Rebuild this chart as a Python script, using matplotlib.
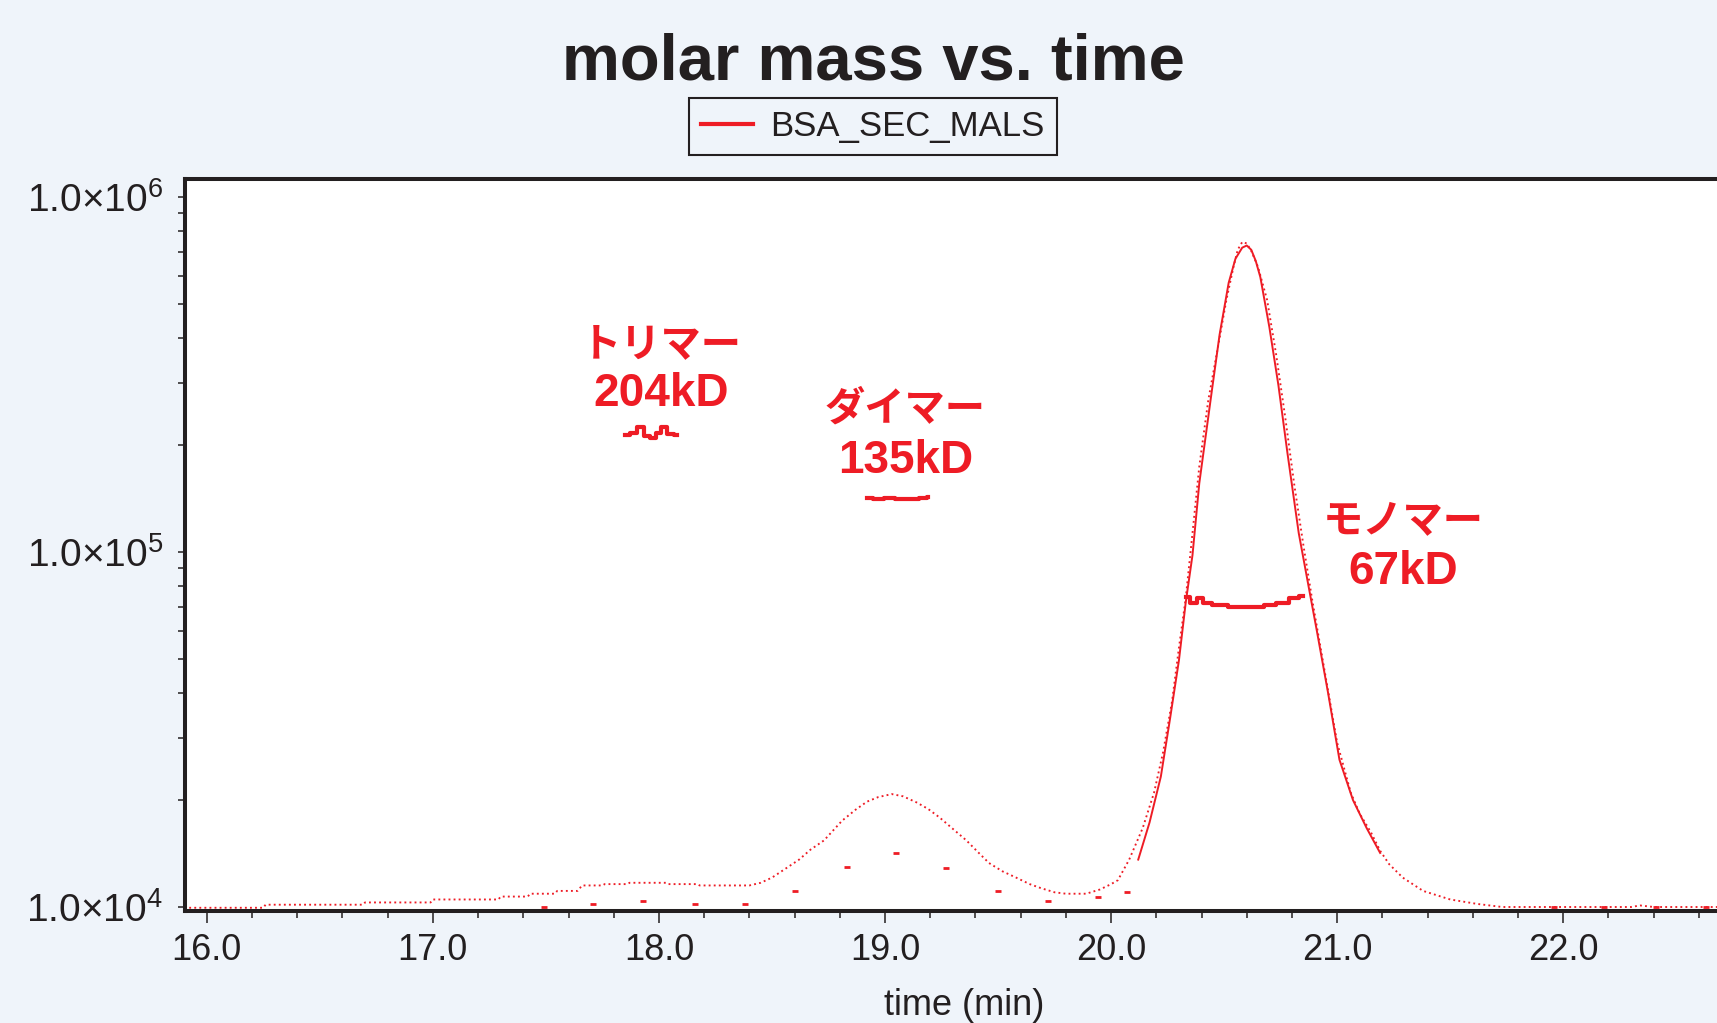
import math
import matplotlib
matplotlib.use("Agg")
import matplotlib.pyplot as plt
from matplotlib.ticker import MultipleLocator, FixedLocator, LogLocator, NullFormatter, FuncFormatter

plt.rcParams['font.family'] = ['Liberation Sans', 'Noto Sans CJK JP']
plt.rcParams['mathtext.fontset'] = 'custom'
plt.rcParams['mathtext.rm'] = 'Liberation Sans'

RED = '#ee1c25'
INK = '#231f20'
BG = '#eff4fa'

# dotted detector trace (time in min, scaled signal)
trace_t = [15.90, 16.25, 16.26, 16.69, 16.70, 16.99, 17.00, 17.29, 17.30, 17.42,
           17.43, 17.54, 17.55, 17.64, 17.66, 17.75, 17.76, 17.86, 17.87, 18.03,
           18.04, 18.17, 18.18, 18.40, 18.45, 18.50, 18.55, 18.62, 18.67, 18.73,
           18.81, 18.87, 18.92, 18.97, 19.03, 19.08, 19.14, 19.19, 19.24, 19.30,
           19.36, 19.41, 19.46, 19.52, 19.58, 19.64, 19.69, 19.75, 19.80, 19.89,
           19.95, 20.00, 20.03, 20.08, 20.14, 20.19, 20.23, 20.27, 20.30, 20.33,
           20.36, 20.39, 20.43, 20.47, 20.51, 20.54, 20.56, 20.58, 20.60, 20.62,
           20.65, 20.69, 20.73, 20.77, 20.81, 20.85, 20.89, 20.94, 21.00, 21.06,
           21.10, 21.15, 21.19, 21.23, 21.29, 21.38, 21.50, 21.62, 21.73, 22.30,
           22.34, 22.40, 22.68]
trace_v = [9.95e3, 9.95e3, 1.015e4, 1.015e4, 1.03e4, 1.03e4, 1.05e4, 1.05e4, 1.07e4, 1.07e4,
           1.09e4, 1.09e4, 1.11e4, 1.11e4, 1.15e4, 1.15e4, 1.16e4, 1.16e4, 1.17e4, 1.17e4,
           1.16e4, 1.16e4, 1.15e4, 1.15e4, 1.17e4, 1.21e4, 1.27e4, 1.36e4, 1.45e4, 1.54e4,
           1.75e4, 1.88e4, 1.98e4, 2.04e4, 2.08e4, 2.05e4, 1.97e4, 1.89e4, 1.79e4, 1.66e4,
           1.54e4, 1.43e4, 1.33e4, 1.26e4, 1.21e4, 1.16e4, 1.13e4, 1.10e4, 1.09e4, 1.09e4,
           1.12e4, 1.16e4, 1.19e4, 1.36e4, 1.67e4, 2.1e4, 2.73e4, 3.81e4, 5.37e4, 7.4e4,
           1.13e5, 1.74e5, 2.68e5, 3.7e5, 5.13e5, 6.3e5, 7.1e5, 7.47e5, 7.4e5, 7.05e5,
           6.35e5, 5.13e5, 3.6e5, 2.4e5, 1.55e5, 1.05e5, 7.3e4, 4.8e4, 2.9e4, 2.1e4,
           1.83e4, 1.62e4, 1.44e4, 1.32e4, 1.21e4, 1.11e4, 1.05e4, 1.02e4, 1.0e4, 1.0e4,
           1.01e4, 1.0e4, 1.0e4]

# solid trace around the main peak
peak_t = [20.12, 20.17, 20.22, 20.26, 20.30, 20.33, 20.36, 20.39, 20.44, 20.48,
          20.52, 20.55, 20.58, 20.60, 20.62, 20.64, 20.66, 20.70, 20.74, 20.78,
          20.83, 20.88, 20.91, 20.96, 21.01, 21.07, 21.13, 21.19]
peak_v = [1.36e4, 1.73e4, 2.33e4, 3.37e4, 4.95e4, 7.2e4, 9.8e4, 1.56e5, 2.68e5, 4.1e5,
          5.73e5, 6.7e5, 7.2e5, 7.3e5, 7.1e5, 6.6e5, 5.95e5, 4.3e5, 2.95e5, 1.9e5,
          1.13e5, 7.6e4, 6.0e4, 4.0e4, 2.6e4, 2.0e4, 1.67e4, 1.42e4]

# same trace, sparse symbols elsewhere
sparse_t = [16.82, 17.04, 17.26, 17.49, 17.71, 17.93, 18.16, 18.38, 18.60, 18.83,
            19.05, 19.27, 19.50, 19.72, 19.94, 20.07, 21.96, 22.18, 22.41, 22.63]
sparse_v = [9.8e3, 9.8e3, 9.8e3, 1.0e4, 1.02e4, 1.04e4, 1.02e4, 1.02e4, 1.11e4, 1.3e4,
            1.42e4, 1.29e4, 1.11e4, 1.04e4, 1.07e4, 1.1e4, 1.0e4, 1.0e4, 1.0e4, 1.0e4]

# molar mass (g/mol)
tri_t = [17.85, 17.89, 17.92, 17.95, 17.97, 18.00, 18.02, 18.05, 18.08]
tri_m = [2.13e5, 2.17e5, 2.25e5, 2.12e5, 2.10e5, 2.17e5, 2.25e5, 2.15e5, 2.13e5]
di_t = [18.92, 18.97, 19.02, 19.07, 19.12, 19.18, 19.19]
di_m = [1.42e5, 1.41e5, 1.42e5, 1.41e5, 1.41e5, 1.42e5, 1.43e5]
mono_t = [20.33, 20.37, 20.39, 20.42, 20.47, 20.56, 20.65, 20.70, 20.76, 20.81, 20.85]
mono_m = [7.45e4, 7.2e4, 7.4e4, 7.2e4, 7.07e4, 7.0e4, 7.0e4, 7.1e4, 7.2e4, 7.4e4, 7.5e4]

labels_jp = ['トリマー', 'ダイマー', 'モノマー']
labels_kd = ['204kD', '135kD', '67kD']
label_t = [18.01, 19.09, 21.29]
label_jp_y = [3.57e5, 2.34e5, 1.14e5]
label_kd_y = [2.58e5, 1.67e5, 8.15e4]

fig = plt.figure(figsize=(17.17, 10.23), dpi=100, facecolor=BG)
ax_left = 185.3 / 1717
ax = fig.add_axes([ax_left, 1 - 911.3 / 1023, 1.0 - ax_left, (911.3 - 179.2) / 1023])
ax.set_facecolor('white')

ax.plot(trace_t, trace_v, color=RED, lw=1.35, dashes=(1, 1.7))
ax.plot(peak_t, peak_v, color=RED, lw=1.4)
ax.plot(sparse_t, sparse_v, ls='none', marker='_', ms=4, mew=2, color=RED)
ax.plot(tri_t, tri_m, color=RED, lw=3.0, drawstyle='steps-mid')
ax.plot(di_t, di_m, color=RED, lw=3.0, drawstyle='steps-mid')
ax.plot(mono_t, mono_m, color=RED, lw=3.0, drawstyle='steps-mid', label='BSA_SEC_MALS')

for t, jp, kd, yj, yk in zip(label_t, labels_jp, labels_kd, label_jp_y, label_kd_y):
    ax.text(t, yj, jp, color=RED, fontsize=29, fontweight='bold', ha='center', va='baseline')
    ax.text(t, yk, kd, color=RED, fontsize=33, fontweight='bold', ha='center', va='baseline')

ax.set_yscale('log')
ax.set_xlim(15.905, 22.68)
ax.set_ylim(9725, 1.1224e6)

ax.xaxis.set_major_locator(MultipleLocator(1))
ax.xaxis.set_minor_locator(MultipleLocator(0.2))
ax.xaxis.set_major_formatter(FuncFormatter(lambda v, p: f'{v:.1f}'))
ax.yaxis.set_major_locator(FixedLocator([1e4, 1e5, 1e6]))
ax.yaxis.set_major_formatter(FuncFormatter(
    lambda v, p: '1.0×10$\\mathregular{^{%d}}$' % round(math.log10(v))))
ax.yaxis.set_minor_locator(LogLocator(base=10, subs=range(2, 10)))
ax.yaxis.set_minor_formatter(NullFormatter())

for side in ['left', 'bottom', 'top']:
    ax.spines[side].set_linewidth(2.9)
    ax.spines[side].set_color(INK)
ax.spines['right'].set_visible(False)

ax.tick_params(axis='x', which='major', length=8.6, width=1.1, color=INK,
               labelsize=26, labelcolor=INK, pad=7)
ax.tick_params(axis='x', which='minor', length=5, width=1.1, color=INK)
ax.tick_params(axis='y', which='both', length=5, width=1.1, color=INK,
               labelsize=28, labelcolor=INK, pad=11)

ax.set_xlabel('time (min)', fontsize=26, color=INK)
ax.xaxis.set_label_coords((964 - 185.3) / (1717 - 185.3), -0.105)

fig.text(873 / 1717, 1 - 79 / 1023, 'molar mass vs. time', fontsize=47,
         fontweight='bold', color=INK, ha='center', va='baseline')

leg = fig.legend(loc='center', bbox_to_anchor=(873 / 1717, 1 - 126.5 / 1023),
                 fontsize=25, frameon=True, fancybox=False, framealpha=1,
                 facecolor=BG, edgecolor=INK, handlelength=1.5, handletextpad=0.5,
                 borderpad=0.35)
leg.get_frame().set_linewidth(1.5)
for txt in leg.get_texts():
    txt.set_color(INK)

fig.savefig('out.png', dpi=100, facecolor=BG)
